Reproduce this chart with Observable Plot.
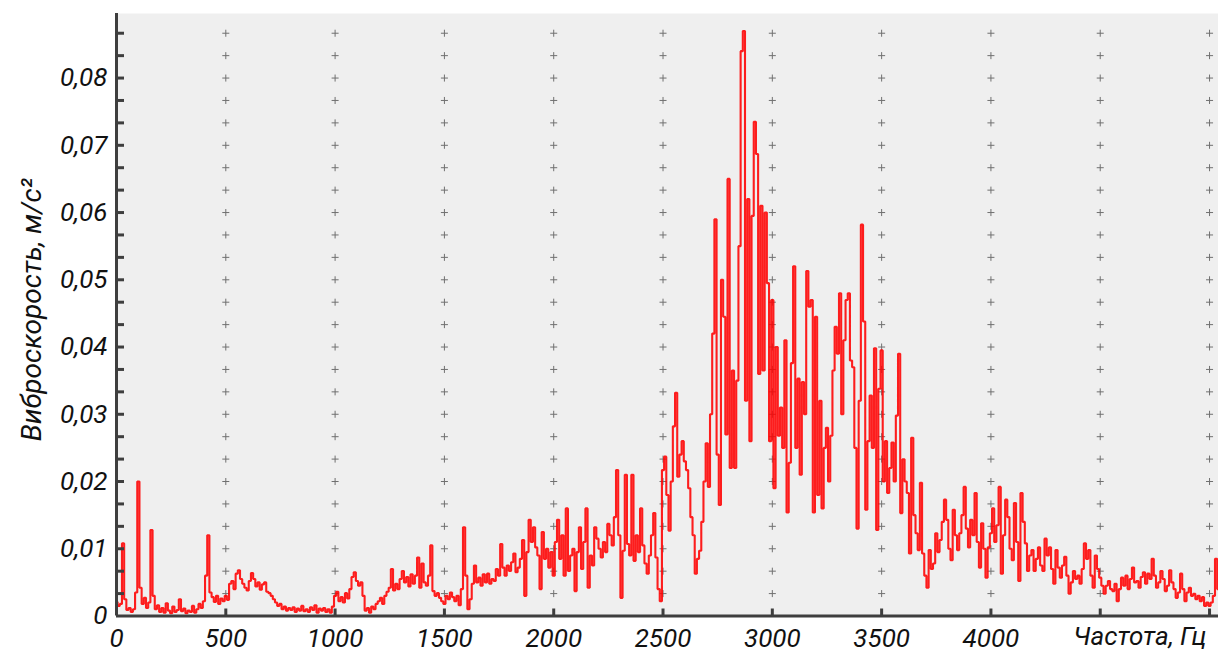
<!DOCTYPE html>
<html>
<head>
<meta charset="utf-8">
<script src="https://cdn.jsdelivr.net/npm/d3@7"></script>
<script src="https://cdn.jsdelivr.net/npm/@observablehq/plot@0.6"></script>
<style>
  html, body { margin: 0; padding: 0; background: #ffffff; }
  #chart { width: 1218px; height: 653px; }
</style>
</head>
<body>
<div id="chart"></div>
<script>
// Vibration velocity spectrum, spectral lines every 10 Hz (values in m/s²)
const stepHz = 10;

const band0 = [ // 0–990 Hz
  0.0021,0.0015,0.0018,0.0108,0.0025,0.0009,0.0012,0.0006,0.0010,0.0035,
  0.0200,0.0042,0.0018,0.0027,0.0012,0.0020,0.0128,0.0030,0.0010,0.0016,
  0.0006,0.0012,0.0005,0.0019,0.0008,0.0004,0.0014,0.0006,0.0009,0.0025,
  0.0007,0.0011,0.0004,0.0008,0.0006,0.0015,0.0005,0.0010,0.0018,0.0012,
  0.0022,0.0060,0.0120,0.0035,0.0028,0.0021,0.0030,0.0018,0.0026,0.0022,
  0.0030,0.0024,0.0048,0.0052,0.0040,0.0063,0.0068,0.0055,0.0048,0.0042,
  0.0038,0.0052,0.0064,0.0055,0.0044,0.0050,0.0039,0.0047,0.0050,0.0036,
  0.0034,0.0030,0.0025,0.0020,0.0015,0.0018,0.0010,0.0014,0.0008,0.0012,
  0.0009,0.0013,0.0006,0.0011,0.0008,0.0015,0.0007,0.0010,0.0006,0.0013,
  0.0009,0.0016,0.0005,0.0011,0.0008,0.0012,0.0006,0.0010,0.0005,0.0014
];

const band1 = [ // 1000–1990 Hz
  0.0030,0.0036,0.0022,0.0028,0.0020,0.0034,0.0026,0.0040,0.0058,0.0065,
  0.0052,0.0045,0.0050,0.0030,0.0008,0.0012,0.0005,0.0014,0.0010,0.0018,
  0.0022,0.0027,0.0018,0.0030,0.0036,0.0042,0.0070,0.0038,0.0048,0.0040,
  0.0055,0.0067,0.0050,0.0058,0.0044,0.0062,0.0048,0.0060,0.0087,0.0042,
  0.0078,0.0050,0.0045,0.0060,0.0105,0.0037,0.0030,0.0034,0.0027,0.0022,
  0.0018,0.0030,0.0025,0.0035,0.0028,0.0022,0.0030,0.0016,0.0040,0.0132,
  0.0060,0.0010,0.0025,0.0048,0.0075,0.0050,0.0057,0.0045,0.0062,0.0050,
  0.0063,0.0048,0.0055,0.0052,0.0070,0.0060,0.0107,0.0072,0.0060,0.0075,
  0.0067,0.0080,0.0093,0.0065,0.0072,0.0085,0.0113,0.0030,0.0095,0.0143,
  0.0110,0.0132,0.0102,0.0090,0.0040,0.0125,0.0085,0.0100,0.0072,0.0095
];

const band2 = [ // 2000–2990 Hz
  0.0060,0.0110,0.0143,0.0085,0.0120,0.0060,0.0160,0.0067,0.0090,0.0100,
  0.0037,0.0095,0.0132,0.0070,0.0110,0.0160,0.0042,0.0090,0.0075,0.0132,
  0.0115,0.0100,0.0087,0.0110,0.0095,0.0137,0.0120,0.0105,0.0147,0.0217,
  0.0120,0.0027,0.0097,0.0210,0.0107,0.0090,0.0210,0.0082,0.0120,0.0095,
  0.0160,0.0105,0.0078,0.0063,0.0090,0.0120,0.0153,0.0087,0.0040,0.0022,
  0.0217,0.0237,0.0180,0.0127,0.0200,0.0282,0.0332,0.0207,0.0240,0.0260,
  0.0230,0.0217,0.0190,0.0147,0.0120,0.0063,0.0085,0.0097,0.0140,0.0200,
  0.0257,0.0192,0.0300,0.0420,0.0590,0.0240,0.0165,0.0500,0.0445,0.0270,
  0.0650,0.0220,0.0365,0.0220,0.0350,0.0550,0.0840,0.0870,0.0320,0.0620,
  0.0260,0.0595,0.0735,0.0687,0.0360,0.0610,0.0365,0.0600,0.0495,0.0260
];

const band3 = [ // 3000–3990 Hz
  0.0470,0.0190,0.0400,0.0268,0.0310,0.0250,0.0410,0.0154,0.0228,0.0376,
  0.0520,0.0250,0.0353,0.0210,0.0348,0.0300,0.0513,0.0460,0.0470,0.0154,
  0.0445,0.0180,0.0320,0.0160,0.0250,0.0280,0.0200,0.0268,0.0365,0.0430,
  0.0390,0.0480,0.0300,0.0410,0.0470,0.0480,0.0380,0.0370,0.0250,0.0130,
  0.0320,0.0582,0.0438,0.0158,0.0260,0.0328,0.0250,0.0398,0.0128,0.0338,
  0.0395,0.0200,0.0260,0.0183,0.0220,0.0258,0.0200,0.0298,0.0390,0.0153,
  0.0233,0.0200,0.0183,0.0093,0.0265,0.0150,0.0123,0.0098,0.0198,0.0093,
  0.0060,0.0042,0.0098,0.0070,0.0078,0.0123,0.0095,0.0113,0.0140,0.0173,
  0.0143,0.0100,0.0083,0.0158,0.0120,0.0098,0.0123,0.0150,0.0192,0.0130,
  0.0102,0.0143,0.0120,0.0183,0.0110,0.0072,0.0138,0.0100,0.0057,0.0102
];

const band4 = [ // 4000–5040 Hz
  0.0123,0.0160,0.0110,0.0135,0.0192,0.0063,0.0120,0.0173,0.0147,0.0100,
  0.0083,0.0168,0.0110,0.0052,0.0183,0.0140,0.0108,0.0067,0.0090,0.0098,
  0.0067,0.0085,0.0102,0.0075,0.0067,0.0115,0.0090,0.0102,0.0070,0.0048,
  0.0098,0.0072,0.0057,0.0075,0.0088,0.0060,0.0033,0.0050,0.0067,0.0055,
  0.0060,0.0048,0.0070,0.0108,0.0085,0.0098,0.0060,0.0042,0.0090,0.0070,
  0.0057,0.0045,0.0033,0.0045,0.0052,0.0040,0.0037,0.0048,0.0022,0.0040,
  0.0057,0.0045,0.0060,0.0040,0.0055,0.0072,0.0050,0.0052,0.0042,0.0058,
  0.0065,0.0048,0.0063,0.0055,0.0085,0.0060,0.0042,0.0050,0.0067,0.0055,
  0.0037,0.0045,0.0068,0.0050,0.0040,0.0027,0.0035,0.0063,0.0040,0.0022,
  0.0035,0.0042,0.0030,0.0033,0.0025,0.0030,0.0022,0.0028,0.0015,0.0020,
  0.0015,0.0020,0.0030,0.0085,0.0040
];

// Axis ticks and labels
const xTickValues = [500, 1000, 1500, 2000, 2500, 3000, 3500, 4000, 4500, 5000];
const xLabelValues = [0, 500, 1000, 1500, 2000, 2500, 3000, 3500, 4000];
const yLabelValues = [0, 0.01, 0.02, 0.03, 0.04, 0.05, 0.06, 0.07, 0.08];
const yDivisions = 3; // minor divisions per 0.01
const xTitle = "Частота, Гц";
const yTitle = "Виброскорость, м/с²";

const spectrum = [...band0, ...band1, ...band2, ...band3, ...band4]
  .map((a, i) => ({f: i * stepHz, a}));

const yTickValues = d3.range(1, 27).map(k => k * 0.01 / yDivisions);
const gridCrosses = d3.cross(xTickValues, yTickValues).map(([f, a]) => ({f, a}));

const fmt = d => d === 0 ? "0" : d.toFixed(2).replace(".", ",");
const axisColor = "#3e3e3e";

const chart = Plot.plot({
  width: 1218,
  height: 653,
  marginLeft: 116,
  marginRight: 0,
  marginTop: 13,
  marginBottom: 37.5,
  style: {
    fontFamily: "Roboto, 'DejaVu Sans', sans-serif",
    fontStyle: "italic",
    fontSize: "26px",
    color: "#111",
    background: "#ffffff"
  },
  x: {domain: [0, 5041]},
  y: {domain: [0, 0.0896]},
  marks: [
    Plot.frame({fill: "#efefef", stroke: null}),
    Plot.dot(gridCrosses, {x: "f", y: "a", symbol: "plus", r: 2.4, stroke: "#707070", strokeWidth: 1}),
    Plot.line(spectrum, {x: "f", y: "a", curve: "step", stroke: "#ff0000", strokeWidth: 2.1, strokeOpacity: 0.88, strokeLinejoin: "miter"}),
    Plot.ruleX([0], {stroke: axisColor, strokeWidth: 3}),
    Plot.ruleY([0], {stroke: axisColor, strokeWidth: 3}),
    Plot.axisY(yTickValues, {tickSize: -8, tickFormat: () => "", stroke: axisColor, strokeWidth: 3, label: null}),
    Plot.axisY(yLabelValues, {tickSize: 0, tickPadding: 9, tickFormat: fmt, label: null, fill: "#111"}),
    Plot.axisX(xTickValues, {tickSize: -7, tickFormat: () => "", stroke: axisColor, strokeWidth: 3, label: null}),
    Plot.axisX(xLabelValues, {tickSize: 0, tickPadding: 13, tickFormat: d => String(d), label: null, fill: "#111"}),
    Plot.text([xTitle], {frameAnchor: "bottom-right", dx: -12, dy: 21, textAnchor: "end", lineAnchor: "middle", fill: "#111", fontSize: 26}),
    Plot.text([yTitle], {frameAnchor: "left", dx: -84, dy: -5, rotate: -90, textAnchor: "middle", fill: "#111", fontSize: 28})
  ]
});

document.getElementById("chart").appendChild(chart);
</script>
</body>
</html>
